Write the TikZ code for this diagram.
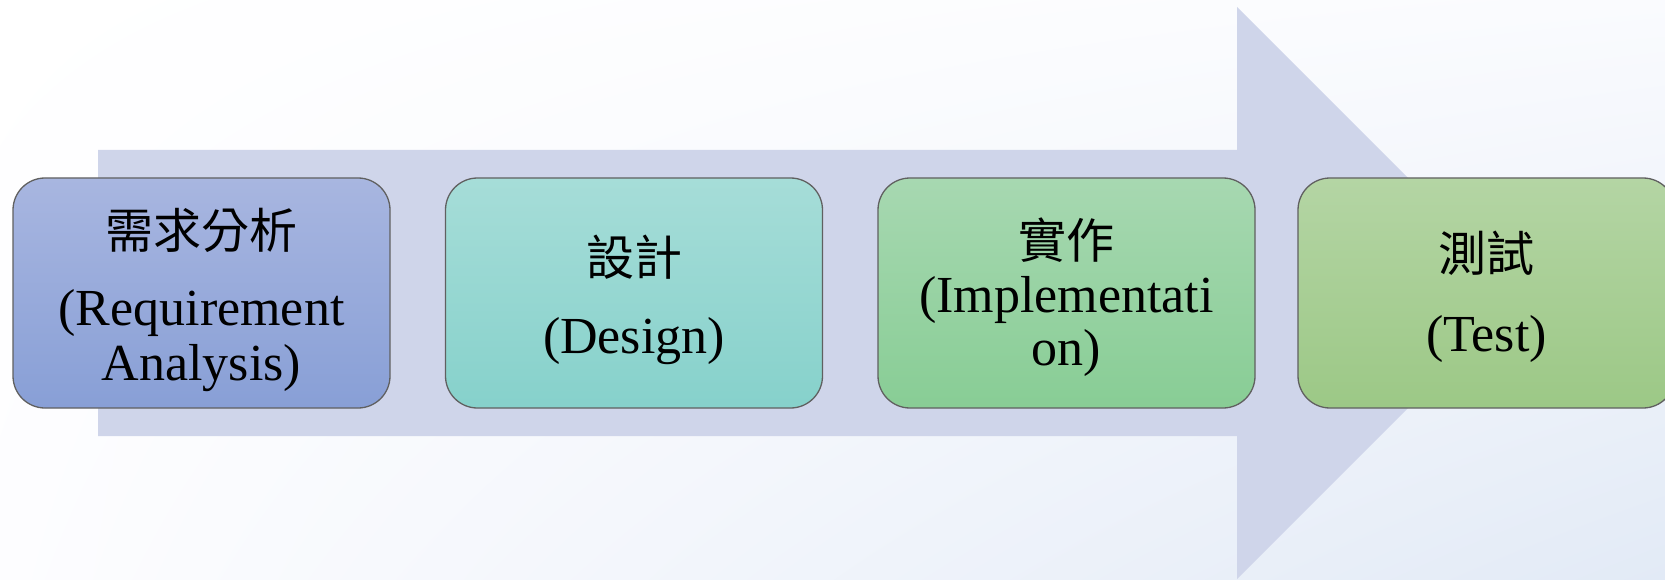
\documentclass[tikz,border=0pt]{standalone}
\usepackage{fontspec}
\usetikzlibrary{shadings}
\setmainfont{Liberation Serif}
\newfontfamily\cjk{Noto Sans CJK TC}
\definecolor{arrowc}{HTML}{CFD5EA}
\definecolor{edgec}{HTML}{606060}
\definecolor{bgtr}{HTML}{FAFBFE}
\definecolor{bgbl}{HTML}{FDFDFF}
\definecolor{bgbr}{HTML}{E2EAF6}
\definecolor{bAt}{HTML}{A8B6E0}
\definecolor{bAb}{HTML}{889FD6}
\definecolor{bBt}{HTML}{A6DDD8}
\definecolor{bBb}{HTML}{86D1CB}
\definecolor{bCt}{HTML}{A7D8B1}
\definecolor{bCb}{HTML}{88CD95}
\definecolor{bDt}{HTML}{B4D5A4}
\definecolor{bDb}{HTML}{9CC886}
\begin{document}
\begin{tikzpicture}[x=1pt,y=-1pt,
  stage/.style={draw=edgec, line width=1.3pt, rounded corners=32pt,
    minimum width=377pt, minimum height=230pt, inner sep=0pt},
  cjktxt/.style={font=\cjk\fontsize{48}{48}\selectfont, inner sep=0pt, anchor=center},
  entxt/.style={font=\fontsize{52}{52}\selectfont, inner sep=0pt, anchor=base}]
\useasboundingbox (0,0) rectangle (1665,580);
\clip (0,0) rectangle (1665,580);
\shade[upper left=white, upper right=bgtr, lower left=bgbl, lower right=bgbr]
  (0,0) rectangle (1665,580);
% big arrow
\fill[arrowc] (98,150) -- (1237,150) -- (1237,7) -- (1523,293) -- (1237,579)
  -- (1237,436) -- (98,436) -- cycle;
% stages
\node[stage, top color=bAt, bottom color=bAb] (s1) at (201.5,293) {};
\node[stage, top color=bBt, bottom color=bBb] (s2) at (634,293) {};
\node[stage, top color=bCt, bottom color=bCb] (s3) at (1066.5,293) {};
\node[stage, top color=bDt, bottom color=bDb] (s4) at (1486.5,293) {};
% texts
\node[cjktxt] (t1a) at (201.5,230) {需求分析};
\node[entxt] (t1b) at (201.5,325) {(Requirement};
\node[entxt] (t1c) at (201.5,380) {Analysis)};
\node[cjktxt] (t2a) at (634,257) {設計};
\node[entxt] (t2b) at (634,353) {(Design)};
\node[cjktxt] (t3a) at (1066.5,240) {實作};
\node[entxt] (t3b) at (1066.5,312) {(Implementati};
\node[entxt] (t3c) at (1066.5,365) {on)};
\node[cjktxt] (t4a) at (1486.5,253) {測試};
\node[entxt] (t4b) at (1486.5,351) {(Test)};
\end{tikzpicture}
\end{document}
